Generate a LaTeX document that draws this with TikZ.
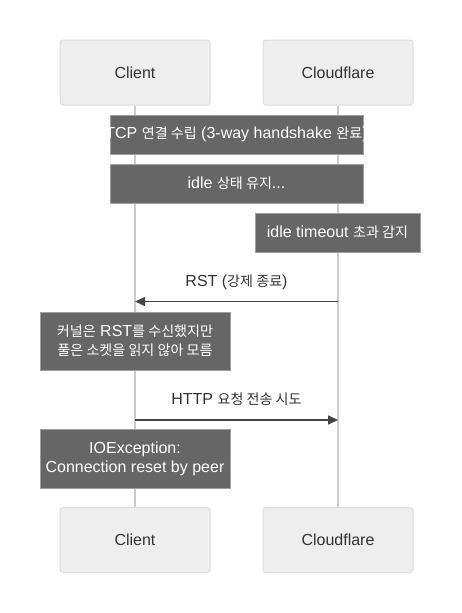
\documentclass[tikz,border=0pt]{standalone}
\usepackage{fontspec}
\setmainfont{Liberation Sans}
\newfontfamily\kr[Scale=0.88]{Noto Sans CJK KR}
\usetikzlibrary{arrows.meta}
\definecolor{actfill}{HTML}{EEEEEE}
\definecolor{actdraw}{HTML}{DDDDDD}
\definecolor{notefill}{HTML}{666666}
\definecolor{notedraw}{HTML}{A0A0A0}
\definecolor{lifecol}{HTML}{CCCCCC}
\definecolor{txt}{HTML}{333333}
\definecolor{msgcol}{HTML}{444444}
\tikzset{
  actorbox/.style={draw=actdraw, fill=actfill, line width=1pt, rounded corners=3pt,
    minimum width=150pt, minimum height=65pt, inner sep=0pt, text=txt},
  notebox/.style={draw=notedraw, fill=notefill, line width=1pt, inner sep=0pt},
  notetext/.style={text=white, align=center, inner sep=0pt},
  life/.style={draw=lifecol, line width=1.5pt},
  msg/.style={draw=msgcol, line width=1.5pt, -{Triangle[length=10pt,width=9pt]}},
  msglabel/.style={text=txt, inner sep=0pt}
}
\begin{document}
\begin{tikzpicture}[x=1pt,y=-1pt,font=\fontsize{16}{19}\selectfont]
\useasboundingbox (0,0) rectangle (461,613);
\fill[white] (0,0) rectangle (461,613);
% actors
\node[actorbox] (c1) at (135,72.5) {Client};
\node[actorbox] (f1) at (338,72.5) {Cloudflare};
\node[actorbox] (c2) at (135,540) {Client};
\node[actorbox] (f2) at (338,540) {Cloudflare};
% lifelines
\draw[life] (c1.south) -- (c2.north);
\draw[life] (f1.south) -- (f2.north);
% note 1
\node[notebox, minimum width=253pt, minimum height=39pt] (n1) at (236.5,134.5) {};
\begin{scope}
\clip (n1.south west) rectangle (n1.north east);
\node[notetext] (t1) at (236.5,134.5) {TCP {\kr 연결 수립} (3-way handshake {\kr 완료})};
\end{scope}
% note 2
\node[notebox, minimum width=253pt, minimum height=39pt] (n2) at (236.5,183.5) {};
\node[notetext] (t2) at (n2.center) {idle {\kr 상태 유지}...};
% note 3
\node[notebox, minimum width=165pt, minimum height=39pt] (n3) at (337.5,232.5) {};
\node[notetext] (t3) at (n3.center) {idle timeout {\kr 초과 감지}};
% RST message
\coordinate (rA) at (338,301.5);
\coordinate (rB) at (135,301.5);
\draw[msg] (rA) -- (rB);
\node[msglabel] (l1) at (236.5,282) {RST ({\kr 강제 종료})};
% note 4
\node[notebox, minimum width=190pt, minimum height=58pt] (n4) at (135,341) {};
\node[notetext] (t4) at (n4.center) {{\kr 커널은} RST{\kr 를 수신했지만}\\[0pt]{\kr 풀은 소켓을 읽지 않아 모름}};
% HTTP message
\coordinate (hA) at (135,420);
\coordinate (hB) at (338,420);
\draw[msg] (hA) -- (hB);
\node[msglabel] (l2) at (236.5,399) {HTTP {\kr 요청 전송 시도}};
% note 5
\node[notebox, minimum width=190pt, minimum height=59pt] (n5) at (135,458.5) {};
\node[notetext] (t5) at (n5.center) {IOException:\\Connection reset by peer};
\end{tikzpicture}
\end{document}
